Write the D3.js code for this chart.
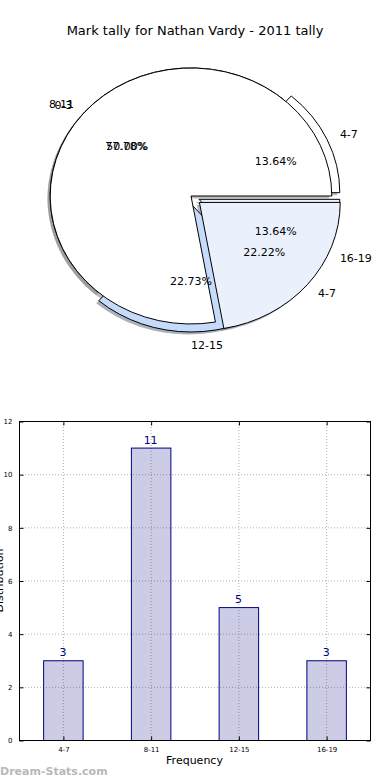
<!DOCTYPE html>
<html>
<head>
<meta charset="utf-8">
<script src="https://cdn.jsdelivr.net/npm/d3@7"></script>
<style>
  body { margin: 0; background: #fff; }
  svg { display: block; font-family: "DejaVu Sans", sans-serif; }
</style>
</head>
<body>
<svg id="chart" width="390" height="780"></svg>
<script>
// mark tally (first pie, and the bars)
const categories = ['4-7', '8-11', '12-15', '16-19'];
const counts = [3, 11, 5, 3];
const pieColors = ['#ffffff', '#ffffff', '#c6dafa', '#eaf1fd'];
const pieExplode = [8, 0, 8, 8];

// second pie drawn over the first one
const categories2 = ['0-3', '4-7'];
const counts2 = [7, 2];
const pieColors2 = ['#ffffff', '#eaf1fd'];
const pieExplode2 = [0, 10];

const yTicks = [0, 2, 4, 6, 8, 10, 12];

const svg = d3.select('#chart');

svg.append('text')
    .attr('x', 195).attr('y', 35)
    .attr('text-anchor', 'middle')
    .style('font-size', '13px')
    .text('Mark tally for Nathan Vardy - 2011 tally');

// ---- pie ----
const cx = 191, cy = 196, r = 128, sx = 1.1;

const pie = d3.pie().sort(null)
    .startAngle(Math.PI / 2)
    .endAngle(Math.PI / 2 - 2 * Math.PI);
const arc = d3.arc().innerRadius(0).outerRadius(r);

const buildSlices = (names, vals, cols, expl) => {
    let total = d3.sum(vals);
    return pie(vals).map((d, i) => {
        let mid = (d.startAngle + d.endAngle) / 2;
        return {
            arc: d, name: names[i], color: cols[i],
            pct: (100 * vals[i] / total).toFixed(2) + '%',
            mid: mid,
            ox: Math.sin(mid) * expl[i],
            oy: -Math.cos(mid) * expl[i]
        };
    });
};

const slices1 = buildSlices(categories, counts, pieColors, pieExplode);
const slices2 = buildSlices(categories2, counts2, pieColors2, pieExplode2);
const allSlices = slices1.concat(slices2);

let pieG = svg.append('g')
    .attr('transform', `translate(${cx},${cy}) scale(${sx},1)`);

// shadows go under every wedge
pieG.selectAll('path.shadow')
    .data(allSlices)
    .enter().append('path')
    .attr('class', 'shadow')
    .attr('d', d => arc(d.arc))
    .attr('transform', d => `translate(${d.ox - 2.4},${d.oy + 2.6})`)
    .style('fill', d => d3.rgb(d.color).darker(1.8))
    .style('opacity', 0.55);

[slices1, slices2].forEach(sl => {
    pieG.append('g').selectAll('path')
        .data(sl)
        .enter().append('path')
        .attr('d', d => arc(d.arc))
        .attr('transform', d => `translate(${d.ox},${d.oy})`)
        .style('fill', d => d.color)
        .style('stroke', '#000')
        .style('stroke-width', 1)
        .attr('vector-effect', 'non-scaling-stroke');
});

const px = (d, k) => cx + (d.ox + Math.sin(d.mid) * r * k) * sx;
const py = (d, k) => cy + d.oy - Math.cos(d.mid) * r * k;

allSlices.forEach(d => {
    svg.append('text')
        .attr('x', px(d, 1.1)).attr('y', py(d, 1.1))
        .attr('dy', '0.35em')
        .attr('text-anchor', Math.sin(d.mid) > -1e-6 ? 'start' : 'end')
        .style('font-size', '11px')
        .text(d.name);
    svg.append('text')
        .attr('x', px(d, 0.6)).attr('y', py(d, 0.6))
        .attr('dy', '0.35em')
        .attr('text-anchor', 'middle')
        .style('font-size', '11px')
        .text(d.pct);
});

// ---- bars ----
const plotL = 19, plotR = 370, plotT = 421, plotB = 740;
let x = d3.scaleLinear().domain([-0.5, categories.length - 0.5]).range([plotL, plotR]);
let y = d3.scaleLinear().domain([0, 12]).range([plotB, plotT]);
const barW = 0.45;

let grid = svg.append('g')
    .style('stroke', '#b0b0b0')
    .style('stroke-dasharray', '1,2')
    .style('stroke-width', 1);
grid.selectAll('line.gy').data(yTicks.slice(1, -1)).enter().append('line')
    .attr('x1', plotL).attr('x2', plotR)
    .attr('y1', d => y(d) + 0.5).attr('y2', d => y(d) + 0.5);
grid.selectAll('line.gx').data(categories).enter().append('line')
    .attr('y1', plotT).attr('y2', plotB)
    .attr('x1', (d, i) => x(i) + 0.5).attr('x2', (d, i) => x(i) + 0.5);

svg.selectAll('rect.bar')
    .data(counts)
    .enter().append('rect')
    .attr('class', 'bar')
    .attr('x', (d, i) => x(i - barW / 2) + 0.5)
    .attr('width', (d, i) => x(i + barW / 2) - x(i - barW / 2))
    .attr('y', d => y(d) + 0.5)
    .attr('height', d => y(0) - y(d))
    .style('fill', 'rgba(0,0,128,0.2)')
    .style('stroke', '#000080')
    .style('stroke-width', 1);

svg.selectAll('text.val')
    .data(counts)
    .enter().append('text')
    .attr('x', (d, i) => x(i))
    .attr('y', d => y(d) - 4)
    .attr('text-anchor', 'middle')
    .style('font-size', '11px')
    .style('fill', '#000080')
    .text(d => d);

// axes box with inward ticks
svg.append('rect')
    .attr('x', plotL + 0.5).attr('y', plotT + 0.5)
    .attr('width', plotR - plotL).attr('height', plotB - plotT)
    .style('fill', 'none').style('stroke', '#000').style('stroke-width', 1);

let yAxis = d3.axisLeft(y).tickValues(yTicks).tickSize(-4).tickPadding(7);
svg.append('g').attr('transform', `translate(${plotL + 0.5},0.5)`).call(yAxis)
    .call(g => g.select('.domain').remove())
    .call(g => g.selectAll('text').style('font-size', '7px').style('font-family', 'DejaVu Sans'));
svg.append('g').attr('transform', `translate(${plotR + 0.5},0.5)`)
    .call(d3.axisRight(y).tickValues(yTicks).tickSize(-4).tickFormat(''))
    .call(g => g.select('.domain').remove());

let xAxis = d3.axisBottom(x).tickValues(d3.range(categories.length))
    .tickFormat(i => categories[i]).tickSize(-4).tickPadding(7);
svg.append('g').attr('transform', `translate(0.5,${plotB + 0.5})`).call(xAxis)
    .call(g => g.select('.domain').remove())
    .call(g => g.selectAll('text').style('font-size', '7px').style('font-family', 'DejaVu Sans'));
svg.append('g').attr('transform', `translate(0.5,${plotT + 0.5})`)
    .call(d3.axisTop(x).tickValues(d3.range(categories.length)).tickSize(-4).tickFormat(''))
    .call(g => g.select('.domain').remove());

svg.append('text')
    .attr('x', (plotL + plotR) / 2).attr('y', 764)
    .attr('text-anchor', 'middle')
    .style('font-size', '11px')
    .text('Frequency');

svg.append('text')
    .attr('transform', `translate(3,${(plotT + plotB) / 2}) rotate(-90)`)
    .attr('text-anchor', 'middle')
    .style('font-size', '11px')
    .text('Distribution');

svg.append('text')
    .attr('x', 0).attr('y', 775)
    .style('font-size', '11px')
    .style('font-weight', 'bold')
    .style('fill', '#b8b8b8')
    .text('Dream-Stats.com');
</script>
</body>
</html>
